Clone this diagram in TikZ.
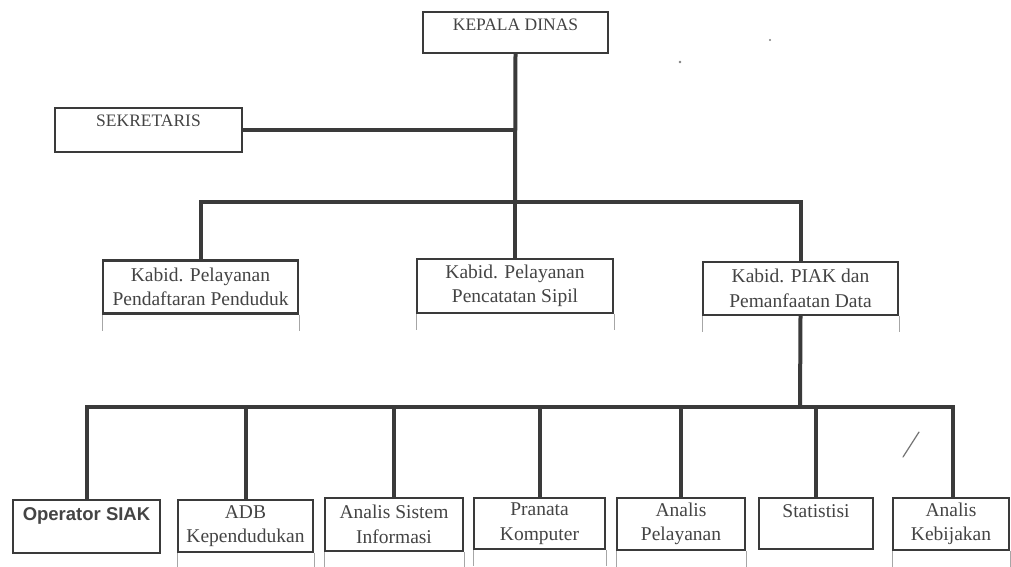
\documentclass[tikz,border=0pt]{standalone}
\usepackage{fontspec}
\setmainfont{Liberation Serif}
\newfontfamily\opfont{Liberation Sans}
\definecolor{ink}{HTML}{3A3A3A}
\definecolor{txt}{HTML}{444444}
\begin{document}
\begin{tikzpicture}[x=1pt,y=-1pt,
  box/.style={draw=ink, line width=2.2pt, fill=white, inner sep=2pt, align=center,
    text=txt, font=\fontsize{19.5}{24.5}\selectfont},
  topbox/.style={box, font=\fontsize{17.5}{24}\selectfont},
  conn/.style={draw=ink, line width=4pt},
  tick/.style={draw=black!35, line width=0.7pt},
  art/.style={draw=black!55, line width=1.2pt, line cap=round}]
\useasboundingbox[fill=white] (0,0) rectangle (1011,566);
% top level
\node[topbox, minimum width=185pt, minimum height=41pt] (kd) at (515.5,32.5) {KEPALA DINAS\\[-8pt]\mbox{}};
\node[topbox, minimum width=187pt, minimum height=44pt] (sek) at (148.5,130) {SEKRETARIS\\[-6pt]\mbox{}};
% middle level
\node[box, minimum width=195pt, minimum height=53pt] (m1) at (200.5,287) {Kabid. Pelayanan\\Pendaftaran Penduduk};
\node[box, minimum width=196pt, minimum height=54pt] (m2) at (515,286) {Kabid. Pelayanan\\Pencatatan Sipil};
\node[box, minimum width=195pt, minimum height=53pt] (m3) at (800.5,288.5) {Kabid. PIAK dan\\Pemanfaatan Data};
% bottom level
\node[box, minimum width=147pt, minimum height=53pt, font=\opfont\bfseries\fontsize{18.5}{24}\selectfont] (b1) at (86.5,526.5) {Operator SIAK\\\mbox{}};
\node[box, minimum width=135pt, minimum height=52pt] (b2) at (245.5,526) {ADB\\Kependudukan};
\node[box, minimum width=138pt, minimum height=53pt] (b3) at (394,524.5) {Analis Sistem\\Informasi};
\node[box, minimum width=131pt, minimum height=51pt] (b4) at (539.5,523.5) {Pranata\\Komputer};
\node[box, minimum width=128pt, minimum height=52pt] (b5) at (681,524) {Analis\\Pelayanan};
\node[box, minimum width=114pt, minimum height=51pt] (b6) at (816,523.5) {Statistisi\\\mbox{}};
\node[box, minimum width=116pt, minimum height=52pt] (b7) at (951,524) {Analis\\Kebijakan};
% junction coordinates
\coordinate (j1) at (515,202);
\coordinate (j2) at (800,407);
\coordinate (js) at (515,130);
% connectors
\draw[conn] (kd.south) -- (j1);
\draw[conn] (sek.east) -- (js);
\draw[conn] (m1.north) |- (j1) -| (m3.north);
\draw[conn] (j1) -- (m2.north);
\draw[conn] (m3.south) -- (j2);
\draw[conn] (b1.north) |- (j2);
\draw[conn] (j2) -| (953,498);
\draw[conn] (j2 -| b2.north) -- (b2.north);
\draw[conn] (j2 -| b3.north) -- (b3.north);
\draw[conn] (j2 -| b4.north) -- (b4.north);
\draw[conn] (j2 -| b5.north) -- (b5.north);
\draw[conn] (j2 -| b6.north) -- (b6.north);
% faint ruling lines below boxes
\foreach \n in {m1,m2,m3} {
  \draw[tick] (\n.south west) -- ++(0,16) (\n.south east) -- ++(0,16);
}
\foreach \n in {b2,b3,b4,b5,b7} {
  \draw[tick] (\n.south west) -- ++(0,16) (\n.south east) -- ++(0,16);
}
% scan marks
\draw[art] (903,457) -- (919,432);
\fill[black!50] (680,62) circle (1.3pt);
\fill[black!50] (770,40) circle (1.2pt);
\end{tikzpicture}
\end{document}
